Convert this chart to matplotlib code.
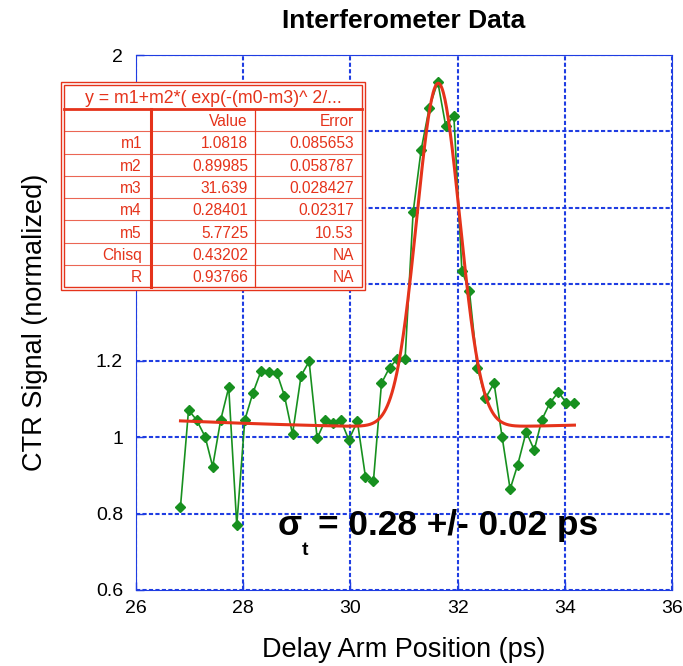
import numpy as np
import matplotlib
matplotlib.use("Agg")
import matplotlib.pyplot as plt
from matplotlib.patches import Rectangle
from matplotlib.ticker import FuncFormatter

plt.rcParams["font.family"] = ["Liberation Sans", "DejaVu Sans"]

# Measured interferometer scan
delay_ps = [26.83, 26.98, 27.13, 27.29, 27.43, 27.58, 27.73, 27.88, 28.03, 28.18,
            28.33, 28.48, 28.63, 28.77, 28.92, 29.08, 29.23, 29.38, 29.53, 29.68,
            29.82, 29.97, 30.13, 30.28, 30.43, 30.58, 30.73, 30.87, 31.02, 31.17,
            31.32, 31.47, 31.63, 31.78, 31.93, 32.08, 32.22, 32.37, 32.52, 32.68,
            32.83, 32.98, 33.12, 33.28, 33.43, 33.57, 33.72, 33.88, 34.03, 34.18]
ctr_signal = [0.818, 1.071, 1.045, 1.001, 0.923, 1.045, 1.130, 0.770, 1.045, 1.115,
              1.172, 1.170, 1.167, 1.108, 1.008, 1.161, 1.198, 0.997, 1.044, 1.038,
              1.045, 0.993, 1.041, 0.897, 0.886, 1.141, 1.182, 1.204, 1.204, 1.588,
              1.752, 1.861, 1.930, 1.813, 1.841, 1.435, 1.383, 1.182, 1.102, 1.141,
              1.001, 0.864, 0.927, 1.014, 0.966, 1.045, 1.089, 1.118, 1.089, 1.089]

# Fit results
fit_formula = "y = m1+m2*( exp(-(m0-m3)^ 2/..."
fit_names = ["m1", "m2", "m3", "m4", "m5", "Chisq", "R"]
fit_values = ["1.0818", "0.89985", "31.639", "0.28401", "5.7725", "0.43202", "0.93766"]
fit_errors = ["0.085653", "0.058787", "0.028427", "0.02317", "10.53", "NA", "NA"]

x_ticks = [26, 28, 30, 32, 34, 36]
y_ticks = [0.6, 0.8, 1.0, 1.2, 1.4, 1.6, 1.8, 2.0]
# y tick labels that sit beneath the parameter table are left blank
y_tick_labels = ["0.6", "0.8", "1", "1.2", "", "", "", "2"]

BLUE = "#1f3de2"
RED = "#e5331b"
GREEN = "#17901f"

m1, m2, m3, m4, m5 = (float(v) for v in fit_values[:5])


def fit_model(t):
    tau = t - m3
    pulse = np.exp(-tau ** 2 / (4 * m4 ** 2))
    cutoff = np.sqrt(np.pi / 2) * (m4 / m5) * np.exp(-tau ** 2 / (2 * m5 ** 2))
    return m1 + m2 * (pulse - cutoff)


W, H = 683, 666
fig = plt.figure(figsize=(W / 100, H / 100), dpi=100)
L, R, T, B = 136, 672, 55, 590
ax = fig.add_axes([L / W, 1 - B / H, (R - L) / W, (B - T) / H])
ax.set_xlim(26, 36)
ax.set_ylim(0.6, 2.0)
ax.set_xticks(x_ticks)
ax.xaxis.set_major_formatter(FuncFormatter(lambda v, p: f"{v:g}"))
ax.set_yticks(y_ticks, y_tick_labels)
ax.grid(True, color=BLUE, lw=1.5, linestyle=(0, (2, 1.1)))
ax.set_axisbelow(True)
for s in ax.spines.values():
    s.set_color(BLUE)
    s.set_linewidth(0.8)
ax.tick_params(axis="both", direction="in", length=6, width=1, color=BLUE,
               labelsize=14)
ax.tick_params(axis="y", pad=9.4)
ax.tick_params(axis="x", pad=7)

xs = np.linspace(delay_ps[0], delay_ps[-1], 500)
ax.plot(delay_ps, ctr_signal, color=GREEN, lw=1.2, marker="D", ms=5.5,
        mfc=GREEN, mec=GREEN, zorder=3)
ax.plot(xs, fit_model(xs), color=RED, lw=2.2, zorder=4)

ax.set_title("Interferometer Data", fontsize=19, fontweight="bold", pad=19.4)
ax.set_xlabel("Delay Arm Position (ps)", fontsize=19.5, va="baseline")
ax.xaxis.set_label_coords(0.5, (B - 657) / (B - T))
ax.set_ylabel("CTR Signal (normalized)", fontsize=19.5, va="center", ha="center")
ax.yaxis.set_label_coords((35 - L) / (R - L), 0.5)

# Overlay in pixel coordinates for the parameter table and annotation
ov = fig.add_axes([0, 0, 1, 1], zorder=10)
ov.set_xlim(0, W)
ov.set_ylim(H, 0)
ov.axis("off")
ov.patch.set_visible(False)

tx0, ty0, tx1, ty1 = 61, 81.7, 365, 290
ov.add_patch(Rectangle((tx0, ty0), tx1 - tx0, ty1 - ty0, facecolor="white",
                       edgecolor=RED, lw=1.0))
ix0, iy0, ix1, iy1 = 64, 84.5, 362, 287
ov.add_patch(Rectangle((ix0, iy0), ix1 - ix0, iy1 - iy0, fill=False,
                       edgecolor=RED, lw=1.0))
head_bottom = 109
row_h = (iy1 - head_bottom) / 8
col_a, col_b = 150.7, 255
ov.plot([ix0, ix1], [head_bottom, head_bottom], color=RED, lw=2.0)
ov.plot([col_a, col_a], [head_bottom, iy1], color=RED, lw=2.2)
ov.plot([col_b, col_b], [head_bottom, iy1], color=RED, lw=0.9)
for i in range(1, 8):
    yy = head_bottom + i * row_h
    ov.plot([ix0, ix1], [yy, yy], color=RED, lw=0.8, alpha=0.75)

tkw = dict(color=RED, fontsize=11.2, va="baseline", ha="right")
ov.text((ix0 + ix1) / 2, 103, fit_formula, color=RED, fontsize=12.8,
        va="baseline", ha="center")
ov.text(248, head_bottom + row_h - 5, "Value", **tkw)
ov.text(354, head_bottom + row_h - 5, "Error", **tkw)
for i, (n, v, e) in enumerate(zip(fit_names, fit_values, fit_errors)):
    yb = head_bottom + (i + 2) * row_h - 5
    ov.text(142, yb, n, **tkw)
    ov.text(248, yb, v, **tkw)
    ov.text(354, yb, e, **tkw)

ov.text(278, 535, "\u03c3", fontsize=25.4, fontweight="bold", va="baseline")
ov.text(302, 555, "t", fontsize=14, fontweight="bold", va="baseline")
ov.text(318, 535, "= 0.28 +/- 0.02 ps", fontsize=25.4, fontweight="bold",
        va="baseline")

fig.savefig("out.png", dpi=100)
